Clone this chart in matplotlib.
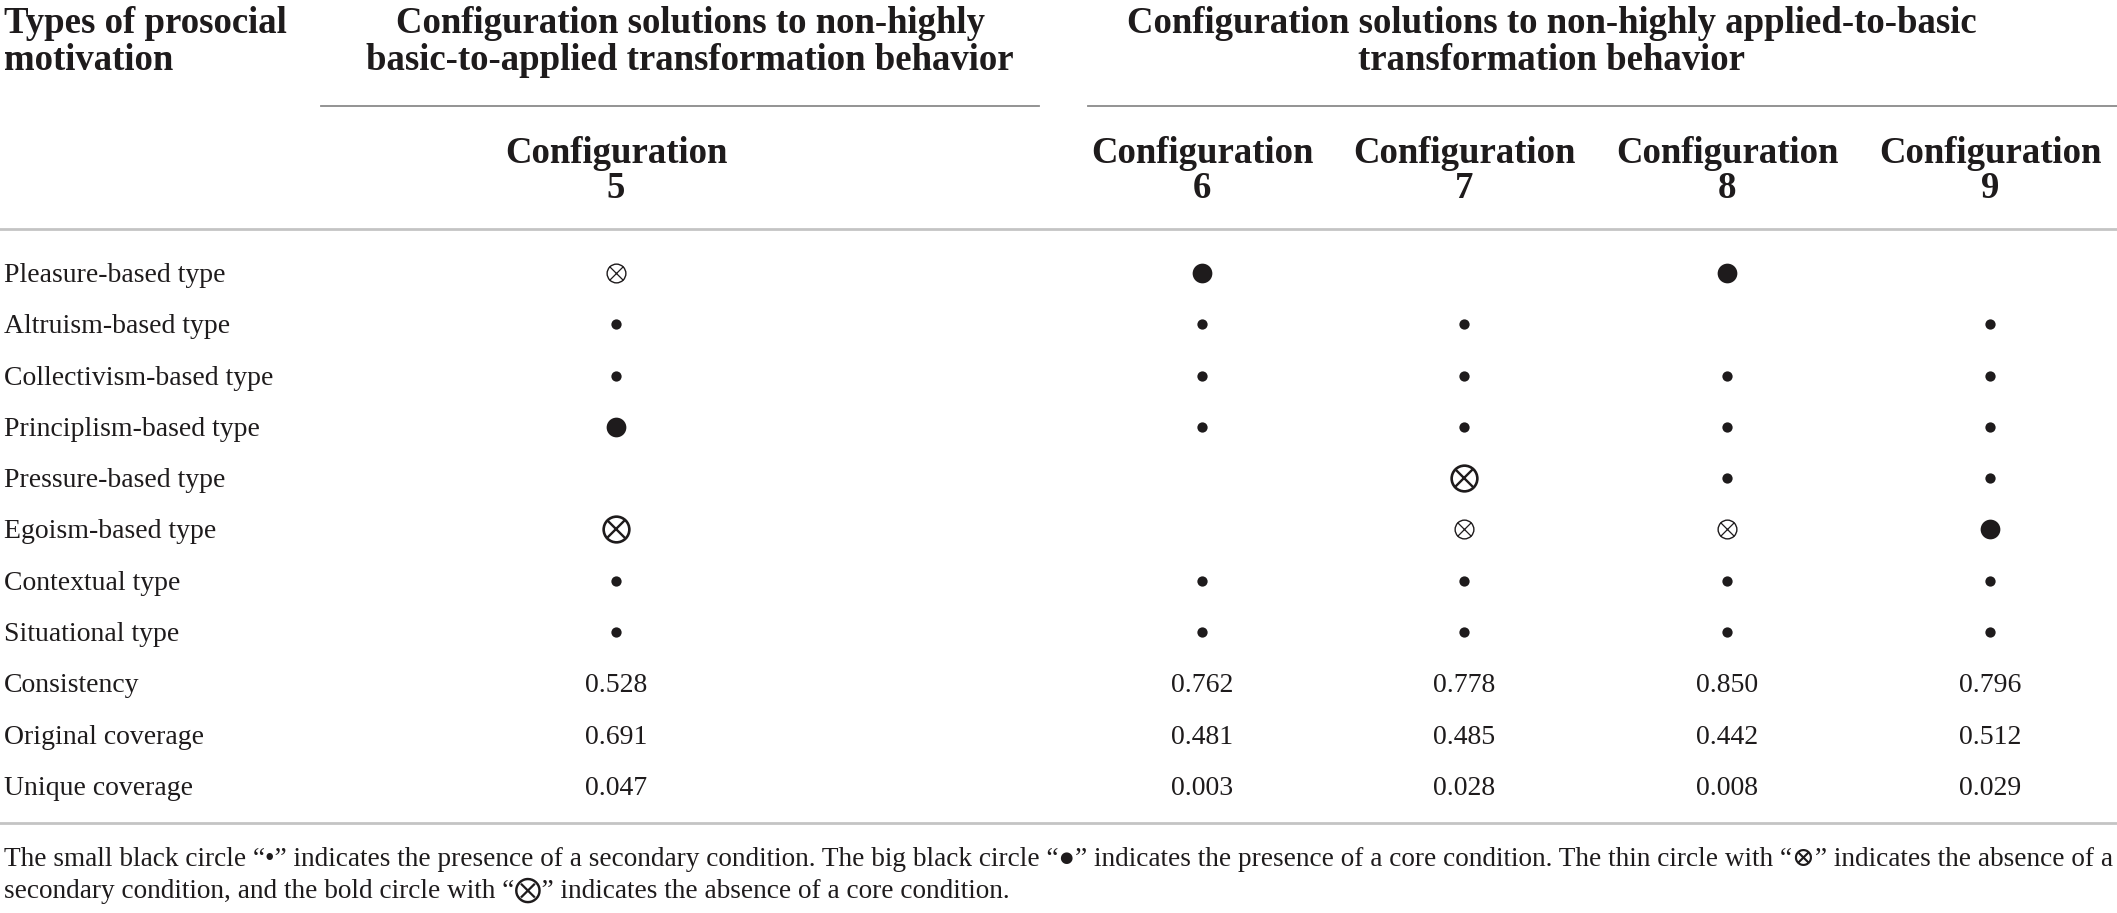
import matplotlib.pyplot as plt

# table content
row_labels = ['Pleasure-based type', 'Altruism-based type', 'Collectivism-based type',
              'Principlism-based type', 'Pressure-based type', 'Egoism-based type',
              'Contextual type', 'Situational type']
stat_labels = ['Consistency', 'Original coverage', 'Unique coverage']
configs = ['5', '6', '7', '8', '9']

# S = small black circle, C = big black circle, x = thin circle-x, X = bold circle-x
conf5 = ['x', 'S', 'S', 'C', '', 'X', 'S', 'S']
conf6 = ['C', 'S', 'S', 'S', '', '', 'S', 'S']
conf7 = ['', 'S', 'S', 'S', 'X', 'x', 'S', 'S']
conf8 = ['C', '', 'S', 'S', 'S', 'x', 'S', 'S']
conf9 = ['', 'S', 'S', 'S', 'S', 'C', 'S', 'S']
symbols = [conf5, conf6, conf7, conf8, conf9]

consistency = ['0.528', '0.762', '0.778', '0.850', '0.796']
original_cov = ['0.691', '0.481', '0.485', '0.442', '0.512']
unique_cov = ['0.047', '0.003', '0.028', '0.008', '0.029']

header_left = ['Types of prosocial', 'motivation']
group1 = ['Configuration solutions to non-highly', 'basic-to-applied transformation behavior']
group2 = ['Configuration solutions to non-highly applied-to-basic', 'transformation behavior']
note = ['The small black circle \u201c\u2022\u201d indicates the presence of a secondary condition. '
        'The big black circle \u201c\u25cf\u201d indicates the presence of a core condition. '
        'The thin circle with \u201c\u2297\u201d indicates the absence of a',
        'secondary condition, and the bold circle with \u201c\u2a02\u201d indicates the absence of a core condition.']

txt = '#1e1b1c'
plt.rcParams['font.family'] = ['Liberation Serif', 'DejaVu Serif', 'DejaVu Sans']

fig = plt.figure(figsize=(21.17, 9.13), dpi=100)
ax = fig.add_axes([0, 0, 1, 1])
ax.set_xlim(0, 2117)
ax.set_ylim(913, 0)
ax.axis('off')

col_x = [616, 1202, 1464, 1727, 1990]
row_y0 = 273
row_step = 51.3
hsize = 26.5
bsize = 20

# header
for k, (a, b, c) in enumerate(zip(header_left, group1, group2)):
    y = 33 + k * 37
    ax.text(4, y, a, fontsize=hsize, fontweight='bold', va='baseline', ha='left', color=txt)
    ax.text(690, y, b, fontsize=hsize, fontweight='bold', va='baseline', ha='center', color=txt)
    ax.text(1552, y, c, fontsize=hsize, fontweight='bold', va='baseline', ha='center', color=txt)
ax.plot([321, 1039], [106, 106], color='#8a8a8a', lw=1.3)
ax.plot([1088, 2117], [106, 106], color='#8a8a8a', lw=1.3)
for x, c in zip(col_x, configs):
    ax.text(x, 163, 'Configuration', fontsize=hsize, fontweight='bold', va='baseline',
            ha='center', color=txt)
    ax.text(x, 198, c, fontsize=hsize, fontweight='bold', va='baseline', ha='center', color=txt)
ax.plot([0, 2117], [229, 229], color='#c4c4c4', lw=2)

# body rows
for i, lab in enumerate(row_labels + stat_labels):
    ax.text(4, row_y0 + i * row_step + 9, lab, fontsize=bsize, va='baseline', ha='left', color=txt)

styles = {
    'S': dict(marker='o', ms=7.4, mfc=txt, mec=txt, mew=0),
    'C': dict(marker='o', ms=14.2, mfc=txt, mec=txt, mew=0),
    'x': dict(marker='o', ms=13.5, mfc='none', mec=txt, mew=1.0),
    'X': dict(marker='o', ms=18.5, mfc='none', mec=txt, mew=1.9),
}
for x, col in zip(col_x, symbols):
    for i, s in enumerate(col):
        if not s:
            continue
        y = row_y0 + i * row_step
        ax.plot([x], [y], ls='none', **styles[s])
        if s in 'xX':
            st = styles[s]
            ax.plot([x], [y], ls='none', marker='x', ms=st['ms'] / 2 ** 0.5,
                    mec=txt, mew=st['mew'] * 0.9)

for j, vals in enumerate([consistency, original_cov, unique_cov]):
    y = row_y0 + (len(row_labels) + j) * row_step + 9
    for x, v in zip(col_x, vals):
        ax.text(x, y, v, fontsize=bsize, va='baseline', ha='center', color=txt)

ax.plot([0, 2117], [823, 823], color='#c4c4c4', lw=2)

# footnote
for k, line in enumerate(note):
    ax.text(4, 866 + k * 32, line, fontsize=19.6, va='baseline', ha='left', color=txt)

fig.savefig('out.png', dpi=100)
